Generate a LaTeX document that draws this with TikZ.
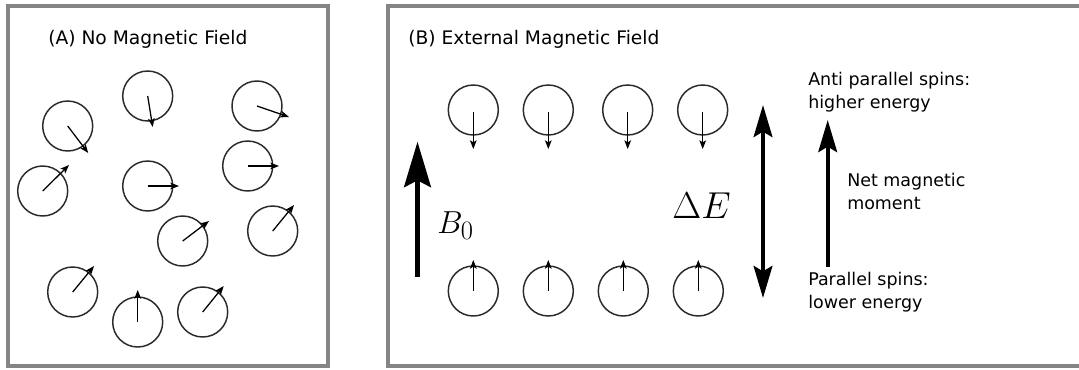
\documentclass[tikz,border=0pt]{standalone}
\usepackage{fontspec}
\newfontfamily\dv{DejaVu Sans}
\usetikzlibrary{arrows.meta}
\definecolor{framegray}{HTML}{858585}
\definecolor{spingray}{HTML}{2A2A2A}
\tikzset{
  frame/.style={draw=framegray, line width=3pt},
  spin/.style={circle, draw=spingray, line width=1.1pt, minimum size=37.5pt, inner sep=0pt},
  spinarrow/.style={line width=0.95pt, -{Stealth[length=6.5pt, width=5pt, inset=1.5pt]}},
  bigarrow/.style={line width=3.75pt, -{Stealth[length=34pt, width=20pt, inset=5pt]}},
  medarrow/.style={line width=3pt, -{Stealth[length=24pt, width=14pt, inset=4pt]}},
  dblarrow/.style={line width=3pt, {Stealth[length=24pt, width=14pt, inset=4pt]}-{Stealth[length=24pt, width=14pt, inset=4pt]}},
  lbl/.style={font=\dv\fontsize{13.1pt}{17.25pt}\selectfont, inner sep=0pt, align=left, anchor=west},
  title/.style={font=\dv\fontsize{14pt}{17pt}\selectfont, inner sep=0pt, anchor=west},
  mathlbl/.style={font=\Huge, inner sep=0pt, anchor=base west},
}
\begin{document}
\begin{tikzpicture}[x=0.75pt, y=-0.75pt]
\useasboundingbox (0,0) rectangle (1079,369);
\clip (0,0) rectangle (1079,369);
% frames
\draw[frame] (7.5,6) rectangle (328,366);
\draw[frame] (388,6) rectangle (1095,366);
% titles
\node[title] (ta) at (48,39) {(A) No Magnetic Field};
\node[title] (tb) at (408,39) {(B) External Magnetic Field};
% panel A spins
\foreach \n/\x/\y/\dx/\dy in {
  a1/67.7/126/20.5/27,
  a2/147.7/96/5/31,
  a3/257/106/32/11,
  a4/42.7/191/26.3/-26,
  a5/147.7/186/31.3/0,
  a6/247.7/166/31.3/0,
  a7/182.7/241/26.3/-20,
  a8/272.7/231/21.3/-26,
  a9/72.7/292/21.3/-26,
  a10/137.7/322/0/-32,
  a11/202.7/312/21/-26}{
  \node[spin] (\n) at (\x,\y) {};
  \draw[spinarrow] (\n.center) -- ++(\dx,\dy);
}
% panel B spins: antiparallel (top)
\foreach \n/\x in {b1/473.3, b2/548.3, b3/627.7, b4/702.7}{
  \node[spin] (\n) at (\x,110) {};
  \draw[spinarrow] ([yshift=-1.5pt]\n.center) -- ++(0,37);
}
% parallel (bottom)
\foreach \n/\x in {c1/473.3, c2/548.3, c3/623.3, c4/698.3}{
  \node[spin] (\n) at (\x,291) {};
  \draw[spinarrow] (\n.center) -- ++(0,-31);
}
% B0 arrow
\coordinate (b0s) at (417.5,276.7);
\coordinate (b0e) at (417.5,141.7);
\draw[bigarrow] (b0s) -- (b0e);
\node[mathlbl, scale=0.96] (b0) at (437,233.3) {$B_0$};
% Delta E
\coordinate (dt) at (763,105);
\coordinate (db) at (763,298);
\draw[dblarrow] (db) -- (dt);
\node[mathlbl, scale=1.13] (de) at (672,218.3) {$\Delta E$};
% net moment arrow
\coordinate (ns) at (827.7,266.7);
\coordinate (ne) at (827.7,120);
\draw[medarrow] (ns) -- (ne);
% right-hand labels
\node[lbl] (anti) at (808,91.7) {Anti parallel spins:\\higher energy};
\node[lbl] (net) at (847,191.3) {Net magnetic\\moment};
\node[lbl] (par) at (808,291.7) {Parallel spins:\\lower energy};
\end{tikzpicture}
\end{document}
